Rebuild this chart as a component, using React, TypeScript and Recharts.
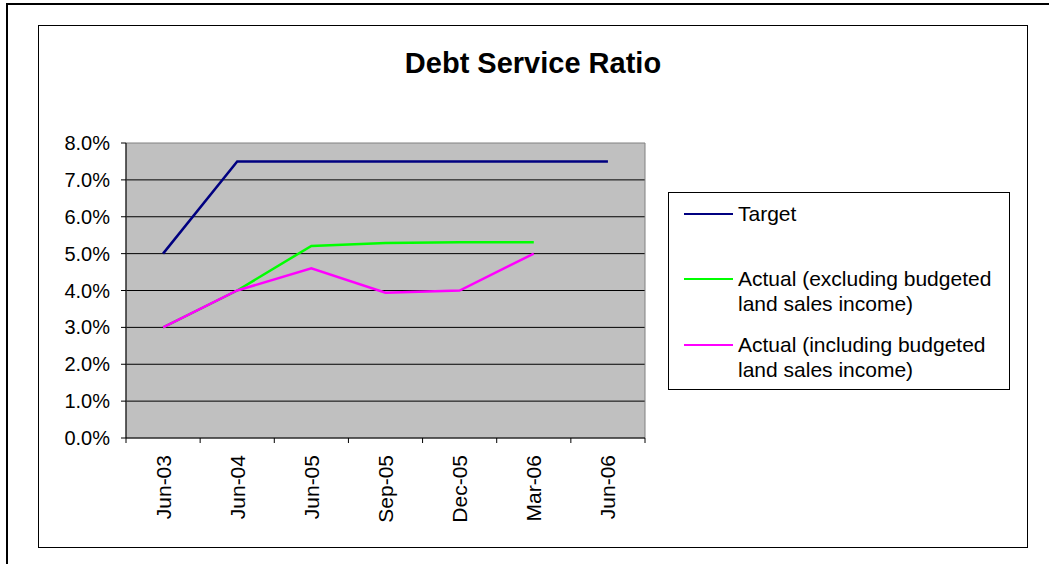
import React, { CSSProperties } from "react";
import {
    LineChart,
    Line,
    XAxis,
    YAxis,
    CartesianGrid,
    ReferenceArea,
    Legend,
} from "recharts";

const months = ["Jun-03", "Jun-04", "Jun-05", "Sep-05", "Dec-05", "Mar-06", "Jun-06"];
const target = [5.0, 7.5, 7.5, 7.5, 7.5, 7.5, 7.5];
const actualExcl = [3.0, 4.0, 5.21, 5.29, 5.31, 5.31, null];
const actualIncl = [3.0, 4.0, 4.6, 3.94, 4.0, 5.0, null];
const yTicks = [0, 1, 2, 3, 4, 5, 6, 7, 8];
const gridValues = [1, 2, 3, 4, 5, 6, 7];

const seriesKeys = ["target", "excl", "incl"];
const seriesNames = {
    target: "Target",
    excl: "Actual (excluding budgeted land sales income)",
    incl: "Actual (including budgeted land sales income)",
};

const data = months.map((m, i) => ({
    month: m,
    target: target[i],
    excl: actualExcl[i],
    incl: actualIncl[i],
}));

const FONT = "Arial, 'Liberation Sans', sans-serif";

function XTick({ x, y, payload, index, visibleTicksCount }: any) {
    const half = payload?.offset ?? 37;
    const isLast = index === (visibleTicksCount ?? months.length) - 1;
    return (
        <g>
            <line x1={x - half} y1={y} x2={x - half} y2={y + 5} stroke="#000" />
            {isLast && (
                <line x1={x + half} y1={y} x2={x + half} y2={y + 5} stroke="#000" />
            )}
            <text
                x={x}
                y={y + 17}
                transform={`rotate(-90, ${x}, ${y + 17})`}
                textAnchor="end"
                dominantBaseline="central"
                fontSize={21}
                fontFamily={FONT}
                fill="#000"
            >
                {payload.value}
            </text>
        </g>
    );
}

const rowGaps = [0, 40, 16];

function LegendBox({ payload }: any) {
    const items = [...(payload || [])].sort(
        (a: any, b: any) => seriesKeys.indexOf(a.dataKey) - seriesKeys.indexOf(b.dataKey)
    );
    return (
        <div style={legendBoxStyle}>
            {items.map((item: any, i: number) => (
                <div key={i} style={{ ...legendRowStyle, marginTop: rowGaps[i] }}>
                    <div style={{ ...legendSwatchStyle, background: item.color }} />
                    <div style={legendTextStyle}>{item.value}</div>
                </div>
            ))}
        </div>
    );
}

export default function App() {
    return (
        <div style={pageStyle}>
            <div style={outerBorderStyle} />
            <div style={innerBorderStyle} />
            <div style={titleStyle}>Debt Service Ratio</div>
            <div style={{ position: "absolute", left: 0, top: 0 }}>
                <LineChart
                    width={1049}
                    height={564}
                    data={data}
                    margin={{ top: 143, right: 62, bottom: 26, left: 46 }}
                >
                    <CartesianGrid
                        vertical={false}
                        horizontalValues={gridValues}
                        stroke="#000"
                        fill="#c0c0c0"
                        fillOpacity={1}
                    />
                    <ReferenceArea
                        y1={0}
                        y2={8}
                        fill="none"
                        stroke="#808080"
                        strokeWidth={1}
                    />
                    <XAxis
                        dataKey="month"
                        scale="band"
                        height={100}
                        tickLine={false}
                        tickSize={0}
                        tickMargin={0}
                        interval={0}
                        axisLine={{ stroke: "#000" }}
                        tick={<XTick />}
                    />
                    <YAxis
                        width={80}
                        domain={[0, 8]}
                        ticks={yTicks}
                        interval={0}
                        tickSize={5}
                        tickMargin={11}
                        axisLine={{ stroke: "#000" }}
                        tickLine={{ stroke: "#000" }}
                        tickFormatter={(v: number) => `${v.toFixed(1)}%`}
                        tick={{ fontSize: 20, fontFamily: FONT, fill: "#000" }}
                    />
                    <Legend
                        layout="vertical"
                        align="right"
                        verticalAlign="top"
                        content={<LegendBox />}
                        wrapperStyle={{ left: 668, top: 192, width: 342, height: 198 }}
                    />
                    <Line
                        dataKey="target"
                        name={seriesNames.target}
                        stroke="#000080"
                        strokeWidth={2.5}
                        dot={false}
                        isAnimationActive={false}
                    />
                    <Line
                        dataKey="excl"
                        name={seriesNames.excl}
                        stroke="#00ff00"
                        strokeWidth={2.5}
                        dot={false}
                        isAnimationActive={false}
                    />
                    <Line
                        dataKey="incl"
                        name={seriesNames.incl}
                        stroke="#ff00ff"
                        strokeWidth={2.5}
                        dot={false}
                        isAnimationActive={false}
                    />
                </LineChart>
            </div>
        </div>
    );
}

const pageStyle: CSSProperties = {
    position: "absolute",
    left: 0,
    top: 0,
    width: 1049,
    height: 564,
    background: "#fff",
    overflow: "hidden",
    fontFamily: FONT,
};

const outerBorderStyle: CSSProperties = {
    position: "absolute",
    left: 6,
    top: 3,
    width: 1100,
    height: 600,
    border: "2px solid #000",
    boxSizing: "border-box",
};

const innerBorderStyle: CSSProperties = {
    position: "absolute",
    left: 38,
    top: 25,
    width: 990,
    height: 523,
    border: "1px solid #000",
    boxSizing: "border-box",
};

const titleStyle: CSSProperties = {
    position: "absolute",
    left: 38,
    width: 990,
    top: 47,
    textAlign: "center",
    fontSize: 29,
    fontWeight: "bold",
    color: "#000",
};

const legendBoxStyle: CSSProperties = {
    width: 342,
    height: 198,
    boxSizing: "border-box",
    border: "1px solid #000",
    background: "#fff",
    padding: "8px 0 0 15px",
    fontFamily: FONT,
};

const legendRowStyle: CSSProperties = {
    display: "flex",
    alignItems: "flex-start",
};

const legendSwatchStyle: CSSProperties = {
    width: 49,
    height: 2,
    marginTop: 12,
    marginRight: 5,
    flexShrink: 0,
};

const legendTextStyle: CSSProperties = {
    fontSize: 21,
    lineHeight: "25px",
    color: "#000",
    width: 275,
};
